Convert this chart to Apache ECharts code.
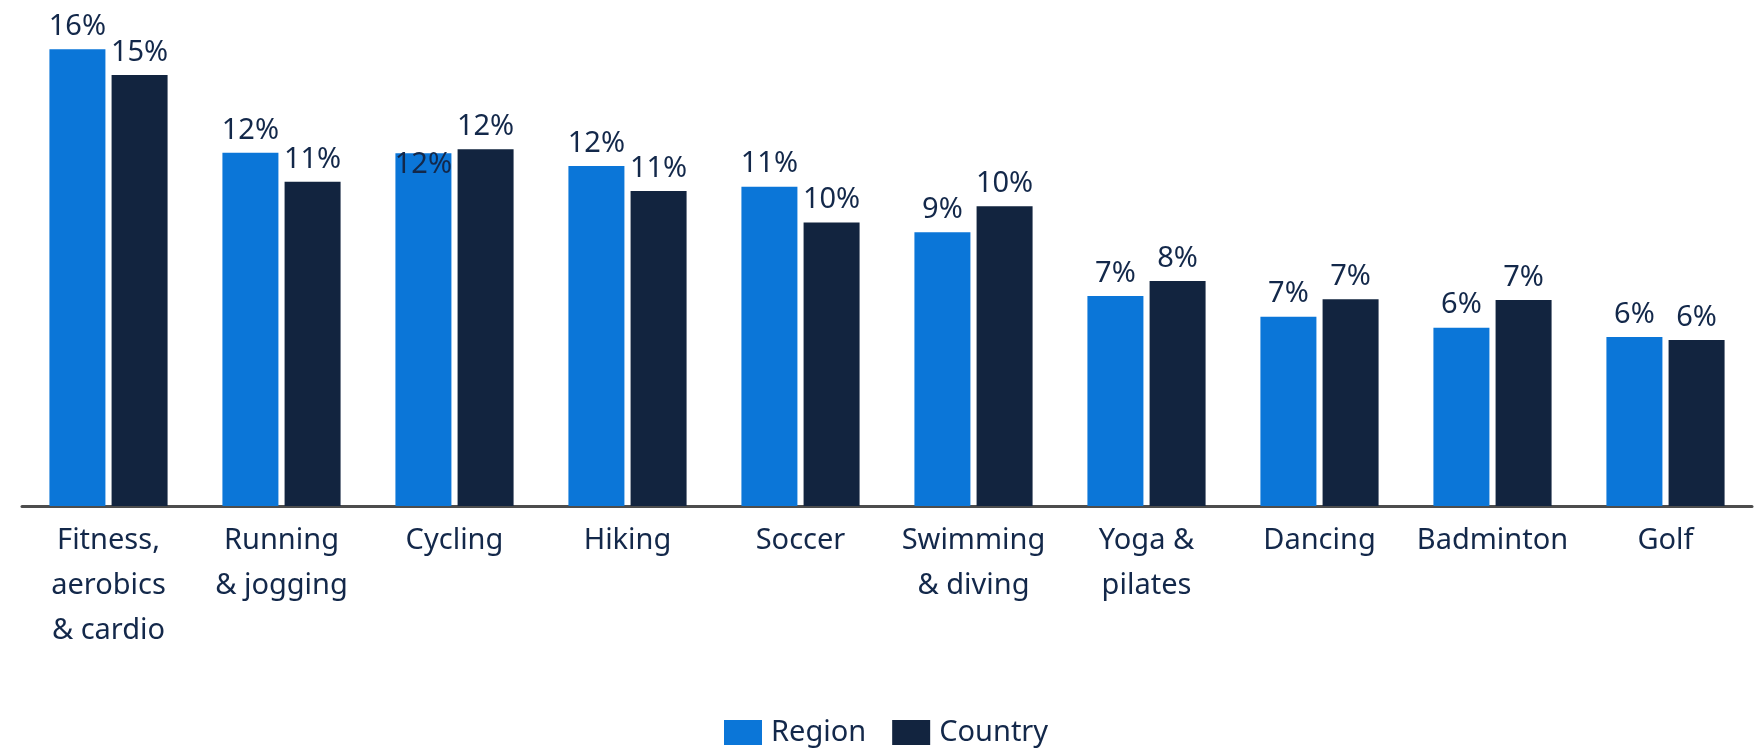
<!DOCTYPE html>
<html>
<head>
<meta charset="utf-8">
<title>Sports participation</title>
<script src="https://cdn.jsdelivr.net/npm/echarts@6/dist/echarts.min.js"></script>
<style>
  html, body { margin: 0; padding: 0; background: #ffffff; }
  #chart { width: 1757px; height: 749px; }
</style>
</head>
<body>
<div id="chart"></div>
<script>
// Sports categories (tick labels, with line breaks as displayed)
const categories = [
  'Fitness,\naerobics\n& cardio',
  'Running\n& jogging',
  'Cycling',
  'Hiking',
  'Soccer',
  'Swimming\n& diving',
  'Yoga &\npilates',
  'Dancing',
  'Badminton',
  'Golf'
];

// Share of respondents (%)
const regionValues  = [15.75, 12.18, 12.16, 11.72, 11.01, 9.44, 7.24, 6.53, 6.15, 5.83];
const countryValues = [14.86, 11.18, 12.30, 10.86,  9.78, 10.34, 7.76, 7.13, 7.10, 5.72];

const seriesNames = ['Region', 'Country'];

const FONT = '"Noto Sans", "Open Sans", sans-serif';
const TEXT_COLOR = '#13284a';
const REGION_COLOR = '#0b76d8';
const COUNTRY_COLOR = '#12243f';

// Labels nudged down where they would collide with a neighbouring label
const regionLabelShift = { 2: [0, 34] };

function buildData(values, shifts) {
  return values.map((v, i) => {
    if (shifts && shifts[i]) {
      return { value: v, label: { offset: shifts[i] } };
    }
    return v;
  });
}

const valueLabel = {
  show: true,
  position: 'top',
  distance: 8,
  color: TEXT_COLOR,
  fontFamily: FONT,
  fontSize: 29,
  formatter: p => Math.round(p.value) + '%'
};

const chart = echarts.init(document.getElementById('chart'), null, { renderer: 'canvas' });

chart.setOption({
  backgroundColor: '#ffffff',
  animation: false,
  grid: { left: 22, right: 5, top: 42, bottom: 243, containLabel: false },
  legend: {
    data: seriesNames,
    left: 719,
    bottom: -3,
    itemWidth: 38,
    itemHeight: 25,
    itemGap: 26,
    icon: 'rect',
    textStyle: { color: TEXT_COLOR, fontFamily: FONT, fontSize: 29, padding: [0, 0, 0, 4] }
  },
  xAxis: {
    type: 'category',
    data: categories,
    axisLine: { show: true, lineStyle: { color: '#4d4d4d', width: 3 } },
    axisTick: { show: false },
    axisLabel: {
      interval: 0,
      margin: 12,
      color: TEXT_COLOR,
      fontFamily: FONT,
      fontSize: 29,
      lineHeight: 45,
      verticalAlign: 'top'
    }
  },
  yAxis: {
    type: 'value',
    min: 0,
    max: 16,
    show: false,
    splitLine: { show: false }
  },
  series: [
    {
      name: seriesNames[0],
      type: 'bar',
      data: buildData(regionValues, regionLabelShift),
      barWidth: 56,
      barGap: '11%',
      itemStyle: { color: REGION_COLOR },
      label: valueLabel
    },
    {
      name: seriesNames[1],
      type: 'bar',
      data: buildData(countryValues),
      barWidth: 56,
      itemStyle: { color: COUNTRY_COLOR },
      label: valueLabel
    }
  ]
});
</script>
</body>
</html>
